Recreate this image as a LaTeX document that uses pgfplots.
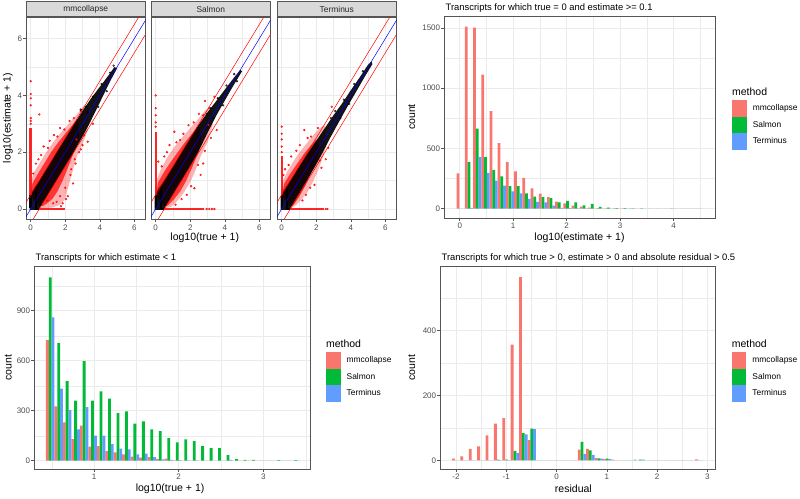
\documentclass[border=0pt]{standalone}
\usepackage{pgfplots}
\pgfplotsset{compat=1.18}
\usepackage{pgfplotstable}
\usepackage{fontspec}
\setmainfont{Liberation Sans}

\definecolor{gred}{HTML}{F8766D}
\definecolor{ggreen}{HTML}{00BA38}
\definecolor{gblue}{HTML}{619CFF}
\definecolor{gridc}{HTML}{EBEBEB}
\definecolor{tickc}{HTML}{4D4D4D}
\definecolor{border}{HTML}{555555}
\definecolor{stripc}{HTML}{D9D9D9}
\definecolor{pred}{HTML}{FF0000}
\definecolor{pblue}{HTML}{0000FF}

\newcommand\tickfont{\fontsize{8}{9.6}\selectfont}
\newcommand\labfont{\fontsize{10.5}{12.6}\selectfont}
\newcommand\legfont{\fontsize{8.4}{10}\selectfont}
\newcommand\titfont{\fontsize{9.4}{11}\selectfont}

\pgfplotsset{
  ggbase/.style={
    scale only axis,
    axis line style={draw=border, line width=0.5pt},
    tick style={draw=border, line width=0.5pt},
    tick align=outside, major tick length=2.7pt, minor tick length=0pt,
    xtick pos=bottom, ytick pos=left,
    grid=both,
    major grid style={draw=gridc, line width=0.6pt},
    minor grid style={draw=gridc, line width=0.3pt},
    ticklabel style={font=\tickfont, text=tickc},
    xticklabel style={inner sep=2pt},
    yticklabel style={inner sep=1pt},
    /pgf/number format/assume math mode=true,
    /pgf/number format/1000 sep={},
    xlabel style={font=\labfont},
    ylabel style={font=\labfont},
  },
  facet/.style={ggbase, width=119.5pt, height=202pt,
    xmin=-0.272, xmax=6.647, ymin=-0.352, ymax=6.761,
    xtick={0,2,4,6}, minor xtick={1,3,5},
    ytick={0,2,4,6}, minor ytick={1,3,5},
    xticklabel style={inner sep=3pt},
    every axis title/.style={at={(axis description cs:0.5,1)}, anchor=south,
      fill=stripc, draw=border, line width=0.5pt,
      minimum width=119.5pt, minimum height=15pt, inner sep=0pt,
      font=\legfont, text=black!85}},
  hist/.style={ggbase,
    every axis title/.style={at={(axis description cs:0,1)}, anchor=base west,
      yshift=5.5pt, xshift=1.5pt, font=\titfont, inner sep=0pt},
    legend cell align=left,
    legend style={draw=none, fill=none, inner sep=0pt, outer sep=0pt,
      font=\legfont, row sep=0pt, nodes={inner sep=0pt},
      /tikz/every odd column/.append style={column sep=6pt}}},
  legtitle/.style={legend image code/.code={\path[draw=none,fill=none] (0pt,-8pt) rectangle (14.7pt,8pt);
      \node[overlay, draw=none, fill=none, anchor=west, inner sep=0pt, font=\labfont, text=black] at (0pt,0pt) {method};}},
  barR/.style={ybar, bar width=#1, bar shift=-#1, fill=gred, draw=none,
    legend image code/.code={\fill[gred] (0pt,-8.3pt) rectangle (14.7pt,8.3pt);}},
  barG/.style={ybar, bar width=#1, bar shift=0, fill=ggreen, draw=none,
    legend image code/.code={\fill[ggreen] (0pt,-8.3pt) rectangle (14.7pt,8.3pt);}},
  barB/.style={ybar, bar width=#1, bar shift=#1, fill=gblue, draw=none,
    legend image code/.code={\fill[gblue] (0pt,-8.3pt) rectangle (14.7pt,8.3pt);}},
  halo1/.style={fill=pred, fill opacity=0.3, draw=none},
  halo2/.style={fill=pred, fill opacity=0.7, draw=none},
  band/.style={fill=black, fill opacity=0.92, draw=none},
  rdots/.style={only marks, pred, mark=*, mark size=0.9pt, mark options={fill=pred, draw=none, fill opacity=0.5}},
  gdots/.style={only marks, black, mark=*, mark size=0.9pt, mark options={fill=black, draw=none, fill opacity=0.35}},
  strip/.style={pred, line width=2.4pt, opacity=0.85},
  bstrip/.style={black, line width=2.4pt},
  upline/.style={pred, line width=0.5pt},
  idline/.style={pblue, line width=0.5pt},
}

\pgfplotstableread{
x red green blue
0.020 294 0 0
0.1735 1511 386 8
0.327 1503 665 428
0.4805 1112 428 297
0.634 810 321 233
0.7875 544 269 192
0.941 387 188 145
1.0945 310 188 127
1.248 255 128 82
1.4015 168 101 57
1.555 125 97 52
1.7085 97 87 25
1.862 58 52 8
2.0155 45 65 4
2.169 25 52 3
2.3225 18 28 2
2.476 10 40 1
2.6295 5 15 1
2.783 3 10 1
2.9365 3 6 0
3.090 2 4 0
3.2435 2 2 0
3.397 1 2 0
3.5505 1 1 0
3.704 1 1 0
3.8575 1 1 0
4.011 2 1 0
4.1645 1 0 0
4.318 1 0 0
4.4715 1 0 0
}\tabTR

\pgfplotstableread{
x red green blue
0.483 724 1100 860
0.583 326 706 432
0.683 230 478 304
0.783 130 360 188
0.883 210 598 322
0.983 84 360 150
1.083 88 416 150
1.183 58 372 100
1.283 50 286 72
1.383 38 296 68
1.483 24 222 38
1.583 18 236 42
1.683 22 188 22
1.783 10 178 8
1.883 12 136 5
1.983 2 110 3
2.083 0 128 2
2.183 0 118 2
2.283 0 88 0
2.383 0 75 0
2.483 0 75 0
2.583 0 33 5
2.683 0 10 0
2.783 0 5 0
2.883 0 5 0
2.983 0 0 0
3.083 0 0 0
3.183 0 3 0
3.283 0 0 0
3.383 0 3 0
}\tabBL

\pgfplotstableread{
x red green blue
-1.994 5 0 0
-1.828 12 0 0
-1.661 35 0 0
-1.494 43 0 0
-1.328 77 0 0
-1.161 113 2 1
-0.994 130 2 1
-0.828 357 29 23
-0.661 565 84 80
-0.494 62 98 96
-0.328 0 0 0
-0.161 0 0 0
0.006 0 0 0
0.172 0 0 0
0.339 0 0 0
0.506 33 57 20
0.672 35 31 17
0.839 7 6 5
1.006 4 5 4
1.172 2 0 0
1.339 0 0 0
1.506 0 0 2
1.672 0 2 2
1.839 0 0 0
2.006 0 0 0
2.172 0 0 0
2.339 0 0 0
2.506 0 0 0
2.672 0 0 0
2.839 3 0 0
}\tabBR

\begin{document}
\begin{tikzpicture}
\path[use as bounding box] (0pt,0pt) rectangle (800pt,498pt);

% ---------------- facet 1: mmcollapse
\begin{axis}[facet, at={(26pt,279pt)}, anchor=south west,
  title={mmcollapse},
  ylabel={log10(estimate + 1)},
  ylabel style={at={(axis description cs:-0.151,0.5)}, anchor=center}]
\addplot[halo1] coordinates {(-0.05,0.5) (0.0,0.95) (0.2,1.3) (0.5,1.6) (0.9,2.0) (1.3,2.35) (1.7,2.65) (2.2,3.0) (2.7,3.35) (3.1,3.65) (3.3,3.6) (3.3,2.75) (3.0,2.3) (2.7,1.9) (2.5,1.5) (2.3,1.05) (2.1,0.6) (1.95,0.3) (1.6,0.12) (1.2,0.05) (0.8,0.02) (0.5,0.05) (0.2,0.2)} -- cycle;
\addplot[halo2] coordinates {(0.0,0.5) (0.1,0.9) (0.4,1.22) (0.8,1.62) (1.2,2.02) (1.6,2.35) (2.0,2.65) (2.4,2.95) (2.7,3.15) (2.8,2.6) (2.5,2.0) (2.15,1.45) (1.85,1.0) (1.55,0.62) (1.25,0.35) (0.95,0.2) (0.7,0.1) (0.5,0.1)} -- cycle;
\addplot[rdots] coordinates {(0.5,3.33) (0.3,1.6) (0.15,1.25) (0.75,2.2) (1.1,2.4) (1.35,2.6) (1.7,2.85) (2.25,3.1) (3.3,2.37) (2.6,1.6) (2.45,0.9) (2.3,1.2) (2.15,0.45) (2.0,0.75) (2.8,2.0) (3.0,2.25) (3.6,3.0) (1.85,0.2) (1.5,0.25) (2.65,2.45) (0.95,0.3)
 (0.45,1.75) (0.6,1.9) (1.0,2.15) (1.55,2.55) (1.95,2.8) (2.5,3.2) (2.9,3.45) (2.35,1.4) (2.55,1.75) (2.9,2.1) (1.7,0.45) (1.3,0.2) (2.05,0.35) (1.75,0.1) (3.1,2.6)
 (0,3.0) (0,3.1) (0,3.2) (0,3.65) (0,3.9) (0,4.05) (0,4.5)};
\addplot[band] coordinates {(-0.06,0.45) (0.15,0.68) (0.5,1.0) (1.0,1.5) (1.5,2.0) (2.0,2.48) (2.5,2.97) (3.0,3.45) (3.5,3.9) (4.0,4.3) (4.5,4.7) (4.85,5.0) (5.0,4.95) (4.6,4.5) (4.2,4.0) (3.8,3.5) (3.4,3.0) (3.0,2.55) (2.5,2.02) (2.0,1.52) (1.5,1.02) (1.0,0.52) (0.7,0.22) (0.5,0.03) (0.45,-0.03) (-0.06,-0.03)} -- cycle;
\addplot[gdots] coordinates {(3.2,3.6) (3.6,3.95) (4.1,4.4) (4.6,4.8) (3.9,3.6) (4.4,4.15) (2.9,3.5) (3.3,3.4) (4.8,5.05)};
\addplot[strip] coordinates {(0,0.5) (0,2.85)};
\addplot[strip] coordinates {(0.5,0) (2.0,0)};
\addplot[bstrip] coordinates {(0,0.03) (0,0.5)};
\addplot[bstrip] coordinates {(0.301,0) (0.301,0.8)};
\addplot[bstrip] coordinates {(0.3,0) (0.5,0)};
\addplot[upline] coordinates {(-1,-0.5) (7,7.5)};
\addplot[upline] coordinates {(-1,-1.5) (7,6.5)};
\addplot[idline] coordinates {(-1,-1) (7,7)};
\end{axis}

% ---------------- facet 2: Salmon
\begin{axis}[facet, at={(151pt,279pt)}, anchor=south west,
  title={Salmon}, yticklabels={}, ytick style={draw=none},
  xlabel={log10(true + 1)},
  xlabel style={at={(axis description cs:0.45,-0.094)}, anchor=center}]
\addplot[halo1] coordinates {(-0.05,0.5) (0.05,1.0) (0.3,1.4) (0.7,1.85) (1.1,2.2) (1.5,2.5) (2.0,2.85) (2.5,3.2) (2.9,3.5) (3.2,3.55) (3.3,2.95) (3.0,2.35) (2.6,1.85) (2.3,1.35) (2.0,0.95) (1.6,0.55) (1.2,0.25) (0.9,0.08) (0.55,0.02) (0.3,0.2)} -- cycle;
\addplot[halo2] coordinates {(0.0,0.5) (0.15,0.95) (0.5,1.32) (0.9,1.68) (1.3,2.02) (1.7,2.35) (2.1,2.65) (2.5,2.95) (2.65,2.35) (2.4,1.9) (2.1,1.45) (1.75,0.98) (1.4,0.6) (1.0,0.3) (0.7,0.12) (0.5,0.1)} -- cycle;
\addplot[rdots] coordinates {(0.15,1.67) (1.08,2.72) (1.41,2.43) (2.85,3.8) (3.53,2.78) (3.05,2.96) (2.24,0.73) (0.5,1.85) (0.8,2.25) (1.9,2.95) (2.5,3.35) (3.4,3.95) (2.75,1.6) (2.6,1.2) (1.8,0.5) (3.2,2.5) (0.35,1.5)
 (0.65,2.0) (1.2,2.35) (1.6,2.65) (2.2,3.05) (2.75,3.3) (2.45,1.55) (2.85,2.05) (2.05,0.8) (1.5,0.35) (1.15,0.15) (3.1,3.55)
 (0,2.9) (0,3.05) (0,3.3) (0,3.55) (0,4.0) (2.95,0) (3.1,0) (3.25,0) (3.4,0)};
\addplot[band] coordinates {(-0.06,0.45) (0.15,0.7) (0.5,1.02) (1.0,1.5) (1.5,2.0) (2.0,2.5) (2.5,2.97) (3.0,3.4) (3.5,3.8) (4.0,4.2) (4.5,4.6) (4.9,4.9) (5.0,4.85) (4.5,4.35) (4.0,3.82) (3.5,3.28) (3.0,2.68) (2.5,2.05) (2.0,1.52) (1.5,1.02) (1.0,0.52) (0.7,0.22) (0.5,0.03) (0.45,-0.03) (-0.06,-0.03)} -- cycle;
\addplot[gdots] coordinates {(3.2,3.55) (3.6,3.9) (4.1,4.35) (4.55,4.75) (3.9,3.65) (3.35,3.2) (2.95,3.35) (4.7,4.5)};
\addplot[strip] coordinates {(0,0.5) (0,2.7)};
\addplot[strip] coordinates {(0.5,0) (2.8,0)};
\addplot[bstrip] coordinates {(0,0.03) (0,0.5)};
\addplot[bstrip] coordinates {(0.301,0) (0.301,0.8)};
\addplot[bstrip] coordinates {(0.3,0) (0.5,0)};
\addplot[upline] coordinates {(-1,-0.5) (7,7.5)};
\addplot[upline] coordinates {(-1,-1.5) (7,6.5)};
\addplot[idline] coordinates {(-1,-1) (7,7)};
\end{axis}

% ---------------- facet 3: Terminus
\begin{axis}[facet, at={(277pt,279pt)}, anchor=south west,
  title={Terminus}, yticklabels={}, ytick style={draw=none}]
\addplot[halo1] coordinates {(-0.05,0.5) (0.05,0.95) (0.3,1.3) (0.7,1.7) (1.1,2.05) (1.5,2.35) (1.9,2.65) (2.3,2.9) (2.5,2.95) (2.6,2.3) (2.4,1.85) (2.1,1.35) (1.8,0.95) (1.5,0.6) (1.1,0.3) (0.8,0.12) (0.55,0.03) (0.3,0.2)} -- cycle;
\addplot[halo2] coordinates {(0.0,0.5) (0.15,0.9) (0.5,1.25) (0.9,1.6) (1.3,1.95) (1.7,2.25) (2.0,2.45) (2.2,2.15) (1.95,1.65) (1.65,1.2) (1.35,0.8) (1.0,0.42) (0.7,0.15) (0.5,0.1)} -- cycle;
\addplot[rdots] coordinates {(1.31,2.78) (0.55,1.85) (0.2,1.4) (0.85,2.05) (1.7,2.55) (2.7,2.15) (1.9,0.85) (2.3,1.45) (2.1,2.85) (1.4,0.5) (2.55,1.75) (0.1,1.2) (2.9,3.6)
 (0.4,1.55) (1.05,2.25) (1.5,2.5) (2.2,1.7) (1.65,0.75) (1.2,0.3)
 (0,2.0) (0,2.2) (0,2.45) (0,2.65) (0,2.9) (2.55,0) (2.65,0)};
\addplot[band] coordinates {(-0.06,0.45) (0.15,0.68) (0.5,1.0) (1.0,1.48) (1.5,1.95) (2.0,2.4) (2.5,2.85) (3.0,3.3) (3.5,3.72) (4.0,4.18) (4.5,4.62) (5.0,5.08) (5.2,5.2) (5.25,5.1) (4.8,4.65) (4.3,4.12) (3.8,3.6) (3.3,3.05) (2.8,2.5) (2.4,2.02) (2.0,1.57) (1.5,1.05) (1.0,0.54) (0.7,0.24) (0.5,0.03) (0.45,-0.03) (-0.06,-0.03)} -- cycle;
\addplot[gdots] coordinates {(3.1,3.45) (3.6,3.85) (4.2,4.4) (4.7,4.85) (3.9,3.7) (2.85,3.2) (3.4,3.2)};
\addplot[strip] coordinates {(0,0.5) (0,1.85)};
\addplot[strip] coordinates {(0.5,0) (2.45,0)};
\addplot[bstrip] coordinates {(0,0.03) (0,0.5)};
\addplot[bstrip] coordinates {(0.301,0) (0.301,0.8)};
\addplot[bstrip] coordinates {(0.3,0) (0.5,0)};
\addplot[upline] coordinates {(-1,-0.5) (7,7.5)};
\addplot[upline] coordinates {(-1,-1.5) (7,6.5)};
\addplot[idline] coordinates {(-1,-1) (7,7)};
\end{axis}

% ---------------- top right histogram
\begin{axis}[hist, at={(444pt,280pt)}, anchor=south west, width=271pt, height=202pt,
  xmin=-0.294, xmax=4.773, ymin=-76.9, ymax=1599,
  xtick={0,1,2,3,4}, minor xtick={0.5,1.5,2.5,3.5,4.5},
  ytick={0,500,1000,1500}, minor ytick={250,750,1250},
  title={Transcripts for which true = 0 and estimate >= 0.1},
  xlabel={log10(estimate + 1)}, ylabel={count},
  xlabel style={at={(axis description cs:0.5,-0.099)}, anchor=center},
  ylabel style={at={(axis description cs:-0.119,0.5)}, anchor=center},
  legend style={at={(axis description cs:1.063,0.663)}, anchor=north west}]
\addlegendimage{legtitle}\addlegendentry{}
\addplot[barR=0.0512] table[x=x,y=red]{\tabTR};\addlegendentry{mmcollapse}
\addplot[barG=0.0512] table[x=x,y=green]{\tabTR};\addlegendentry{Salmon}
\addplot[barB=0.0512] table[x=x,y=blue]{\tabTR};\addlegendentry{Terminus}
\end{axis}

% ---------------- bottom left histogram
\begin{axis}[hist, at={(34pt,29pt)}, anchor=south west, width=276pt, height=203pt,
  xmin=0.2914, xmax=3.551, ymin=-50, ymax=1168,
  xtick={1,2,3}, minor xtick={0.5,1.5,2.5,3.5},
  ytick={0,300,600,900}, minor ytick={150,450,750,1050},
  title={Transcripts for which estimate < 1},
  xlabel={log10(true + 1)}, ylabel={count},
  xlabel style={at={(axis description cs:0.493,-0.0985)}, anchor=center},
  ylabel style={at={(axis description cs:-0.093,0.5)}, anchor=center},
  legend style={at={(axis description cs:1.058,0.655)}, anchor=north west}]
\addlegendimage{legtitle}\addlegendentry{}
\addplot[barR=0.0333] table[x=x,y=red]{\tabBL};\addlegendentry{mmcollapse}
\addplot[barG=0.0333] table[x=x,y=green]{\tabBL};\addlegendentry{Salmon}
\addplot[barB=0.0333] table[x=x,y=blue]{\tabBL};\addlegendentry{Terminus}
\end{axis}

% ---------------- bottom right histogram
\begin{axis}[hist, at={(440pt,29pt)}, anchor=south west, width=275pt, height=203pt,
  xmin=-2.318, xmax=3.152, ymin=-26.7, ymax=599,
  xtick={-2,-1,0,1,2,3}, minor xtick={-1.5,-0.5,0.5,1.5,2.5},
  ytick={0,200,400}, minor ytick={100,300,500},
  title={Transcripts for which true > 0, estimate > 0 and absolute residual > 0.5},
  xlabel={residual}, ylabel={count},
  xlabel style={at={(axis description cs:0.485,-0.0985)}, anchor=center},
  ylabel style={at={(axis description cs:-0.103,0.5)}, anchor=center},
  legend style={at={(axis description cs:1.061,0.655)}, anchor=north west}]
\addlegendimage{legtitle}\addlegendentry{}
\addplot[barR=0.0556] table[x=x,y=red]{\tabBR};\addlegendentry{mmcollapse}
\addplot[barG=0.0556] table[x=x,y=green]{\tabBR};\addlegendentry{Salmon}
\addplot[barB=0.0556] table[x=x,y=blue]{\tabBR};\addlegendentry{Terminus}
\end{axis}
\end{tikzpicture}
\end{document}
